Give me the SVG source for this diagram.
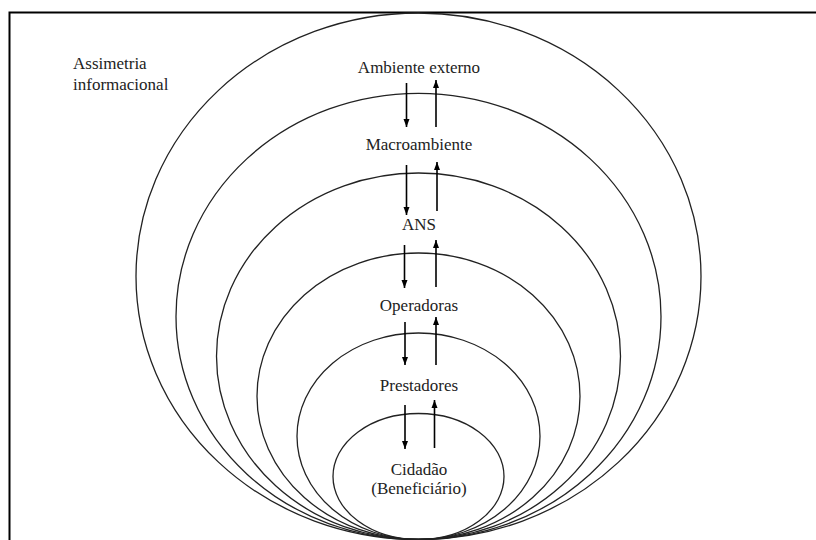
<svg xmlns="http://www.w3.org/2000/svg" width="816" height="540" viewBox="0 0 816 540">
<style>
.ring{fill:none;stroke:#222;stroke-width:1.3}
.arr{stroke:#000;stroke-width:1.6;fill:none}
text{font-family:'Liberation Serif','Times New Roman',Times,serif;font-size:17px;fill:#222}
.lbl{text-anchor:middle}
</style>
<defs>
<marker id="ah" markerUnits="userSpaceOnUse" markerWidth="10" markerHeight="10" viewBox="0 0 10 10" refX="9" refY="5" orient="auto">
<path d="M1,2 L9,5 L1,8 Z" fill="#000"/>
</marker>
</defs>
<rect width="816" height="540" fill="#fff"/>
<path d="M9.5,540 V12.5 H816" fill="none" stroke="#000" stroke-width="2"/>
<g id="ring-ambiente-externo"><ellipse class="ring" cx="418.5" cy="276.25" rx="282.5" ry="263.25"/></g>
<g id="ring-macroambiente"><ellipse class="ring" cx="418.5" cy="316.4" rx="242.5" ry="223.1"/></g>
<g id="ring-ans"><ellipse class="ring" cx="418.5" cy="356.25" rx="202" ry="183.25"/></g>
<g id="ring-operadoras"><ellipse class="ring" cx="418.5" cy="396.25" rx="161.5" ry="143.25"/></g>
<g id="ring-prestadores"><ellipse class="ring" cx="418.5" cy="436.25" rx="121.5" ry="103.25"/></g>
<g id="ring-cidadao"><ellipse class="ring" cx="418.5" cy="476.5" rx="85.5" ry="63"/></g>
<g id="label-assimetria" font-family="Liberation Serif, serif"><text x="73" y="69" font-family="Liberation Serif, serif">Assimetria</text><text x="73" y="90" font-family="Liberation Serif, serif">informacional</text></g>
<g id="label-ambiente"><text class="lbl" x="419" y="73" font-family="Liberation Serif, serif">Ambiente externo</text></g>
<g id="label-macro"><text class="lbl" x="419" y="150" font-family="Liberation Serif, serif">Macroambiente</text></g>
<g id="label-ans"><text class="lbl" x="419" y="230" font-family="Liberation Serif, serif">ANS</text></g>
<g id="label-operadoras"><text class="lbl" x="419" y="311" font-family="Liberation Serif, serif">Operadoras</text></g>
<g id="label-prestadores"><text class="lbl" x="419" y="391" font-family="Liberation Serif, serif">Prestadores</text></g>
<g id="label-cidadao"><text class="lbl" x="419" y="475" font-family="Liberation Serif, serif">Cidadão</text><text class="lbl" x="419" y="494" font-family="Liberation Serif, serif">(Beneficiário)</text></g>
<g id="connectors">
<line class="arr" x1="406.5" y1="83" x2="406.5" y2="127" marker-end="url(#ah)"/>
<line class="arr" x1="436" y1="127" x2="436" y2="80" marker-end="url(#ah)"/>
<line class="arr" x1="406.5" y1="165" x2="406.5" y2="215" marker-end="url(#ah)"/>
<line class="arr" x1="437" y1="211" x2="437" y2="162" marker-end="url(#ah)"/>
<line class="arr" x1="404.5" y1="245" x2="404.5" y2="288" marker-end="url(#ah)"/>
<line class="arr" x1="436" y1="287" x2="436" y2="240" marker-end="url(#ah)"/>
<line class="arr" x1="405" y1="322" x2="405" y2="365" marker-end="url(#ah)"/>
<line class="arr" x1="436" y1="365" x2="436" y2="317" marker-end="url(#ah)"/>
<line class="arr" x1="405" y1="405" x2="405" y2="449" marker-end="url(#ah)"/>
<line class="arr" x1="434.5" y1="448" x2="434.5" y2="400" marker-end="url(#ah)"/>
</g>
</svg>
